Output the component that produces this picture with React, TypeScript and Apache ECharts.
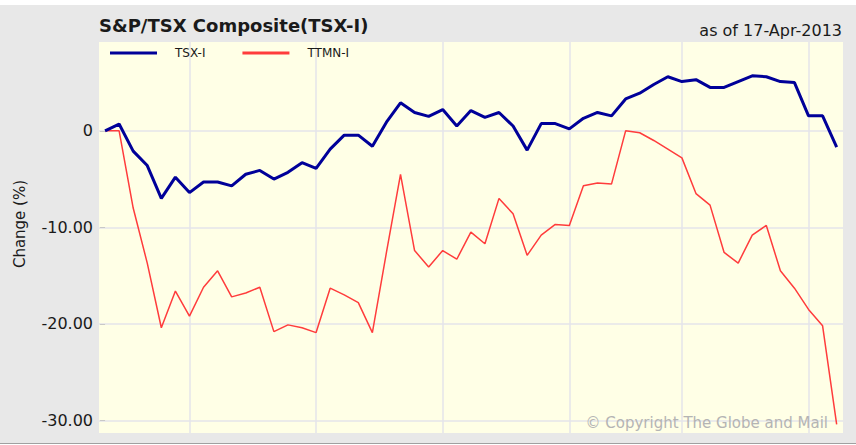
import React, { useEffect, useRef } from "react";
import * as echarts from "echarts";

// Daily % change since start (trading days, index 0..52)
const tsxValues: number[] = [
  0, 0.7, -2.1, -3.6, -7.0, -4.8, -6.4, -5.3, -5.3, -5.7, -4.5, -4.1, -5.0, -4.3,
  -3.3, -3.9, -1.9, -0.45, -0.45, -1.6, 0.9, 2.9, 1.9, 1.5, 2.2, 0.5, 2.1,
  1.4, 1.9, 0.5, -2.0, 0.75, 0.75, 0.2, 1.3, 1.9, 1.55, 3.3, 3.9, 4.8,
  5.6, 5.1, 5.3, 4.5, 4.5, 5.1, 5.7, 5.6, 5.1, 5.0, 1.55, 1.55, -1.7,
];
const ttmnValues: number[] = [
  0, 0, -8.0, -13.7, -20.4, -16.6, -19.2, -16.2, -14.5, -17.2, -16.8, -16.2, -20.8, -20.1,
  -20.4, -20.9, -16.3, -17.0, -17.8, -20.9, -12.6, -4.5, -12.4, -14.1, -12.4, -13.3, -10.5,
  -11.7, -7.0, -8.6, -12.9, -10.8, -9.7, -9.8, -5.7, -5.4, -5.5, 0.0, -0.2, -1.0,
  -1.9, -2.8, -6.5, -7.7, -12.6, -13.7, -10.8, -9.8, -14.5, -16.3, -18.5, -20.2, -30.4,
];
const seriesNames: string[] = ["TSX-I", "TTMN-I"];
const yTicks: number[] = [-30, -20, -10, 0];
const xGridDays: number[] = [6, 15, 24, 33, 41, 50];

const FONT = "DejaVu Sans";

export default function App() {
  const ref = useRef<HTMLDivElement>(null);
  useEffect(() => {
    document.body.style.margin = "0";
    if (!ref.current) return;
    const chart = echarts.init(ref.current, null, { renderer: "svg" });
    const toPairs = (arr: number[]) => arr.map((v, i) => [i, v]);
    chart.setOption({
      animation: false,
      backgroundColor: "#ffffff",
      title: [
        {
          text: "S&P/TSX Composite(TSX-I)",
          left: 99,
          top: 16,
          padding: 0,
          textStyle: { fontFamily: FONT, fontSize: 18, fontWeight: "bold", color: "#1a1a1a" },
        },
        {
          text: "as of 17-Apr-2013",
          right: 14,
          top: 22,
          padding: 0,
          textStyle: { fontFamily: FONT, fontSize: 16, fontWeight: "normal", color: "#1a1a1a" },
        },
      ],
      legend: {
        data: seriesNames,
        left: 110,
        top: 47,
        icon: "rect",
        itemWidth: 47,
        itemHeight: 3,
        itemGap: 37,
        padding: 0,
        textStyle: { fontFamily: FONT, fontSize: 12, color: "#1a1a1a", padding: [0, 0, 0, 13] },
      },
      grid: {
        left: 99,
        top: 42,
        right: 13,
        bottom: 12,
        show: true,
        backgroundColor: "#ffffe6",
        borderWidth: 0,
      },
      xAxis: {
        type: "value",
        min: -0.43,
        max: 52.45,
        axisLine: { show: false },
        axisLabel: { show: false },
        axisTick: { show: false, customValues: xGridDays },
        splitLine: { show: true, lineStyle: { color: "#e4e4ea", width: 1.5 } },
      },
      yAxis: {
        type: "value",
        min: -31.3,
        max: 9.2,
        axisLine: { show: false },
        axisTick: { show: true, length: 5, lineStyle: { color: "#c8c8c8" }, customValues: yTicks },
        axisLabel: {
          customValues: yTicks,
          margin: 6,
          fontFamily: FONT,
          fontSize: 16,
          color: "#1a1a1a",
          formatter: (v: number) => (v === 0 ? "0" : v.toFixed(2)),
        },
        splitLine: { show: true, lineStyle: { color: "#e4e4ea", width: 1.5 } },
      },
      graphic: [
        {
          type: "rect",
          z: -10,
          silent: true,
          shape: { x: 0, y: 5, width: 856, height: 438 },
          style: { fill: "#e8e8e8" },
        },
        {
          type: "line",
          z: -9,
          silent: true,
          shape: { x1: 0, y1: 443.5, x2: 856, y2: 443.5 },
          style: { stroke: "#a0a0a0", lineWidth: 1 },
        },
        {
          type: "text",
          x: 20,
          y: 224,
          rotation: Math.PI / 2,
          style: {
            text: "Change (%)",
            fontFamily: FONT,
            fontSize: 15,
            fill: "#1a1a1a",
            align: "center",
            verticalAlign: "middle",
          },
        },
        {
          type: "text",
          x: 828,
          y: 423,
          z: 100,
          style: {
            text: "© Copyright The Globe and Mail",
            fontFamily: FONT,
            fontSize: 15,
            fill: "#b4b4b4",
            align: "right",
            verticalAlign: "middle",
          },
        },
      ],
      series: [
        {
          name: seriesNames[0],
          type: "line",
          data: toPairs(tsxValues),
          showSymbol: false,
          symbol: "none",
          z: 3,
          color: "#000099",
          lineStyle: { color: "#000099", width: 3 },
        },
        {
          name: seriesNames[1],
          type: "line",
          data: toPairs(ttmnValues),
          showSymbol: false,
          symbol: "none",
          z: 2,
          color: "#ff3c3c",
          lineStyle: { color: "#ff3c3c", width: 1.5 },
        },
      ],
    });
    return () => chart.dispose();
  }, []);
  return <div ref={ref} style={{ width: 856, height: 445 }} />;
}
